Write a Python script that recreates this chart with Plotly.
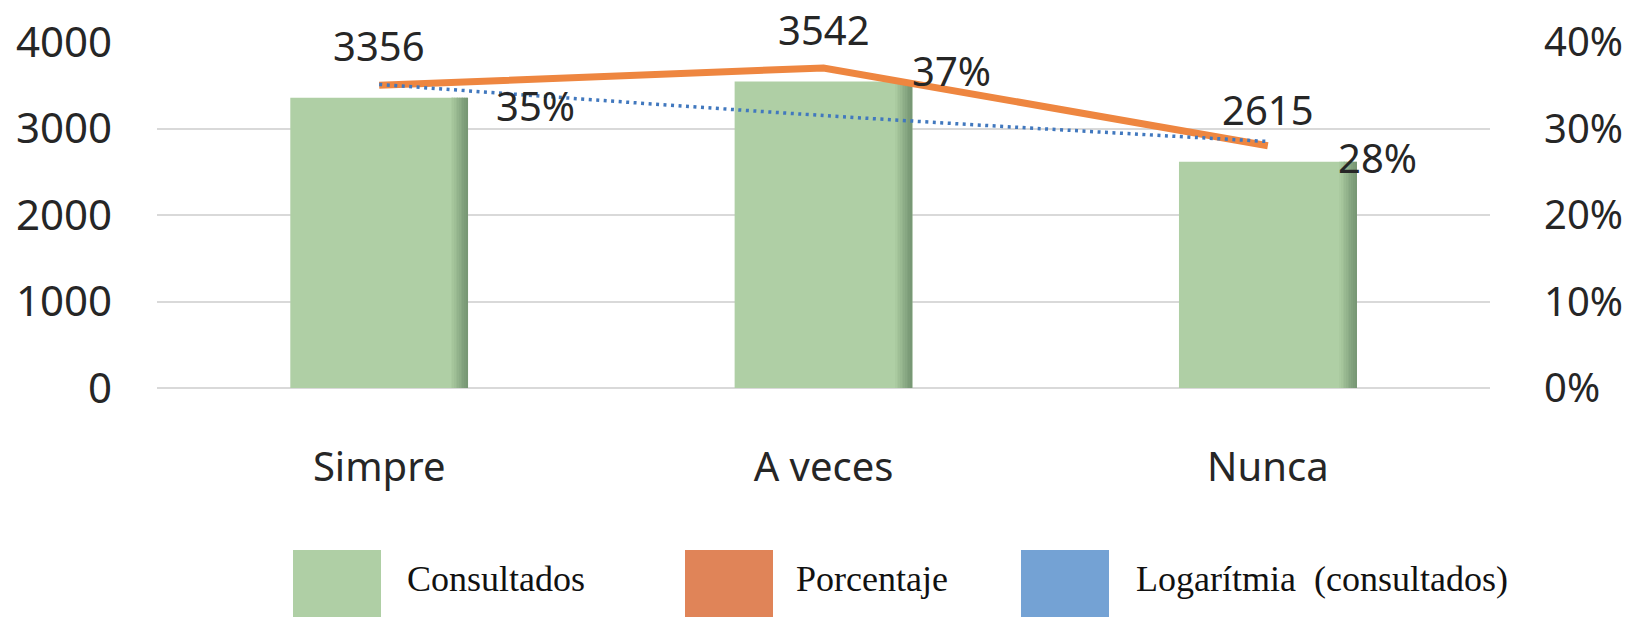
import plotly.graph_objects as go

# --- data -------------------------------------------------------------
categorias = ["Simpre", "A veces", "Nunca"]
consultados = [3356, 3542, 2615]
porcentaje = [0.35, 0.37, 0.28]
tendencia_log = [3510, 3150, 2850]          # logarithmic trend of "consultados"
ticks_izq = [0, 1000, 2000, 3000, 4000]
ticks_der = [0, 0.1, 0.2, 0.3, 0.4]
leyenda = ["Consultados", "Porcentaje", "Logarítmia\u00a0 (consultados)"]

# --- styling ------------------------------------------------------------
W, H = 1639, 617
L, R, T, B = 157, 149, 40, 229
PW, PH = W - L - R, H - T - B
FONT = "Noto Sans"
TXT = "#262626"
GRID = "#D9D9D9"
VERDE = "#AFCFA5"
NARANJA = "#EE8640"
AZUL = "#4178BE"
BAR_W = 0.4

fig = go.Figure()

# main bars
fig.add_trace(go.Bar(
    x=categorias, y=consultados, width=BAR_W, offset=-BAR_W / 2,
    marker=dict(color=VERDE, line_width=0), name="Consultados",
    hoverinfo="x+y",
))
# soft darker gradient along the right edge of each bar
sombras = ["#AACAA0", "#A5C59B", "#9FBF96", "#99B991", "#93B38C",
           "#8DAD87", "#87A782", "#81A17D", "#7C9C78", "#789875"]
sw = 0.0038
for i, c in enumerate(sombras):
    fig.add_trace(go.Bar(
        x=categorias, y=consultados, width=sw,
        offset=BAR_W / 2 - sw * (len(sombras) - i),
        marker=dict(color=c, line_width=0), hoverinfo="skip",
    ))

# percentage line on the right axis
fig.add_trace(go.Scatter(
    x=categorias, y=porcentaje, yaxis="y2", mode="lines",
    line=dict(color=NARANJA, width=7), name="Porcentaje",
))

# dotted logarithmic trend (drawn above the orange line)
fig.add_trace(go.Scatter(
    x=categorias, y=tendencia_log, yaxis="y3", mode="lines",
    line=dict(color=AZUL, width=3.5, dash="3px,4.5px", shape="spline"),
    name="Logarítmia (consultados)",
))

# value labels above the bars
anns = []
for c, v in zip(categorias, consultados):
    anns.append(dict(x=c, y=v, xref="x", yref="y", text=str(v), showarrow=False,
                     yshift=52, font=dict(family=FONT, size=40, color=TXT)))

# percentage labels to the right of each point
desplaz = [(156, -20), (128, -3), (110, -12)]
for c, p, (dx, dy) in zip(categorias, porcentaje, desplaz):
    anns.append(dict(x=c, y=p, xref="x", yref="y2", text=f"{round(p * 100)}%",
                     showarrow=False, xshift=dx, yshift=dy,
                     font=dict(family=FONT, size=40, color=TXT)))

# custom legend: large colour squares with serif captions
def px_x(p):
    return (p - L) / PW

def px_y(p):
    return (T + PH - p) / PH

shapes = []
leg_cols = [VERDE, "#E08458", "#74A2D4"]
sw_left = [293, 685, 1021]
txt_left = [405, 794, 1134]
for col, x0, tx, lab in zip(leg_cols, sw_left, txt_left, leyenda):
    shapes.append(dict(type="rect", xref="paper", yref="paper",
                       x0=px_x(x0), x1=px_x(x0 + 88), y0=px_y(551), y1=px_y(625),
                       fillcolor=col, line_width=0, layer="above"))
    anns.append(dict(xref="paper", yref="paper", x=px_x(tx), y=px_y(580),
                     xanchor="left", yanchor="middle", text=lab, showarrow=False,
                     font=dict(family="Liberation Serif", size=36, color="#111111")))

fig.update_layout(
    width=W, height=H,
    margin=dict(l=L, r=R, t=T, b=B, pad=0),
    paper_bgcolor="white", plot_bgcolor="white",
    barmode="overlay", bargap=0.6, showlegend=False,
    font=dict(family=FONT, size=40, color=TXT),
    xaxis=dict(type="category", showgrid=False, showline=False, zeroline=False,
               ticks="", ticklabelstandoff=52,
               tickfont=dict(family=FONT, size=40, color=TXT)),
    yaxis=dict(range=[0, 4000], tickvals=ticks_izq, showgrid=True, gridcolor=GRID,
               gridwidth=2, zeroline=True, zerolinecolor=GRID, zerolinewidth=2,
               showline=False, ticks="", ticklabelstandoff=44,
               tickfont=dict(family=FONT, size=42, color=TXT)),
    yaxis2=dict(range=[0, 0.4], tickvals=ticks_der, tickformat=".0%", overlaying="y",
                side="right", showgrid=False, zeroline=False, showline=False,
                ticks="", ticklabelstandoff=53,
                tickfont=dict(family=FONT, size=40, color=TXT)),
    yaxis3=dict(range=[0, 4000], overlaying="y", visible=False),
    annotations=anns,
    shapes=shapes,
)

fig.write_html("out.html")
